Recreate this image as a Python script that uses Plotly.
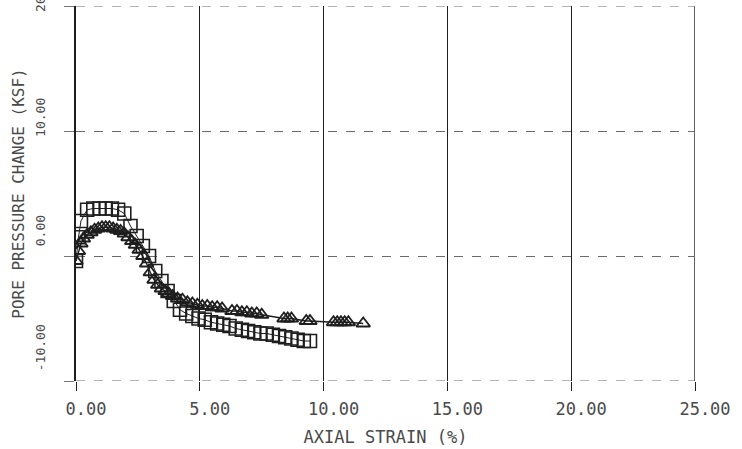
import plotly.graph_objects as go

# Axial strain (%) and pore pressure change (ksf) for the two test specimens
strain_sq = [0.0, 0.1, 0.2, 0.45, 0.7, 0.95, 1.2, 1.45, 1.7, 1.95, 2.2, 2.45, 2.7,
             2.95, 3.2, 3.45, 3.7, 3.95, 4.2, 4.45, 4.7, 4.95, 5.2, 5.45, 5.7, 5.95,
             6.2, 6.45, 6.7, 6.95, 7.2, 7.45, 7.7, 7.95, 8.2, 8.45, 8.7, 8.95, 9.2, 9.45]
pore_sq = [-0.4, 1.5, 2.8, 3.7, 3.8, 3.8, 3.8, 3.8, 3.7, 3.4, 2.4, 1.6, 0.8,
           0.0, -1.2, -2.0, -2.8, -3.6, -4.3, -4.6, -4.8, -5.0, -5.1, -5.3, -5.4, -5.5,
           -5.6, -5.8, -5.9, -6.0, -6.1, -6.2, -6.2, -6.3, -6.4, -6.5, -6.6, -6.7, -6.8, -6.8]

strain_tri = [0.0, 0.1, 0.2, 0.3, 0.45, 0.6, 0.75, 0.9, 1.05, 1.2, 1.35, 1.5, 1.65,
              1.8, 1.95, 2.1, 2.25, 2.4, 2.55, 2.7, 2.85, 3.0, 3.15, 3.3, 3.45, 3.6,
              3.75, 3.9, 4.1, 4.3, 4.5, 4.7, 4.9, 5.1, 5.3, 5.5, 5.7, 5.9, 6.3, 6.5,
              6.7, 6.9, 7.1, 7.3, 7.5, 8.4, 8.55, 8.7, 9.3, 9.45, 10.4, 10.55, 10.7,
              10.85, 11.0, 11.6]
pore_tri = [-0.4, 0.4, 1.0, 1.4, 1.7, 1.9, 2.1, 2.2, 2.3, 2.3, 2.3, 2.2, 2.1,
            2.0, 1.8, 1.5, 1.2, 0.9, 0.5, 0.0, -0.6, -1.3, -1.9, -2.3, -2.6, -2.8,
            -3.0, -3.2, -3.4, -3.5, -3.7, -3.8, -3.9, -4.0, -4.0, -4.1, -4.1, -4.2, -4.4, -4.4,
            -4.5, -4.5, -4.6, -4.6, -4.7, -5.0, -5.0, -5.0, -5.2, -5.2, -5.3, -5.3, -5.3,
            -5.3, -5.3, -5.4]

x_ticks = [0, 5, 10, 15, 20, 25]
x_labels = ["0.00", "5.00", "10.00", "15.00", "20.00", "25.00"]
y_ticks = [-10, 0, 10, 20]
y_labels = ["-10.00", "0.00", "10.00", "20.00"]

INK = "#1e1e1e"
GRID = "#6a6a6a"
TXT = "#4a4a4a"
MONO = "DejaVu Sans Mono"

X_RANGE = [0, 25]
Y_RANGE = [-10, 20]

# The plotter set the y labels slightly above their ticks; leading
# no-break spaces lift each rotated label by a few half-character widths.
y_lift = [8, 6, 3, 3]
y_text = ["\u00a0" * n + lab for lab, n in zip(y_labels, y_lift)]

fig = go.Figure()
fig.add_trace(go.Scatter(
    x=strain_sq, y=pore_sq, mode="lines+markers",
    line=dict(color=INK, width=1),
    marker=dict(symbol="square-open", size=13, color=INK, line=dict(width=1.6, color=INK)),
    showlegend=False, hoverinfo="skip"))
fig.add_trace(go.Scatter(
    x=strain_tri, y=pore_tri, mode="lines+markers",
    line=dict(color=INK, width=1.4),
    marker=dict(symbol="triangle-up-open", size=12, color=INK, line=dict(width=1.8, color=INK)),
    showlegend=False, hoverinfo="skip"))

# Frame: solid right edge, dashed top and bottom edges
fig.add_shape(type="line", xref="x", yref="y", x0=X_RANGE[1], x1=X_RANGE[1],
              y0=Y_RANGE[0], y1=Y_RANGE[1], line=dict(color=INK, width=1.4), layer="below")
for yv in Y_RANGE:
    fig.add_shape(type="line", xref="x", yref="y", x0=X_RANGE[0], x1=X_RANGE[1],
                  y0=yv, y1=yv, line=dict(color=GRID, width=1.2, dash="dash"), layer="below")

fig.update_layout(
    width=742, height=449,
    margin=dict(l=76, r=47, t=6, b=68),
    paper_bgcolor="white", plot_bgcolor="white",
    font=dict(family=MONO, color=TXT),
    xaxis=dict(
        range=X_RANGE, tickvals=x_ticks, ticktext=x_labels,
        showgrid=True, gridcolor=INK, gridwidth=1.4,
        zeroline=False, showline=False,
        ticks="outside", ticklen=9, tickcolor=INK, tickwidth=1.4,
        tickfont=dict(family=MONO, size=17, color=TXT),
        ticklabelshift=10, ticklabelstandoff=4,
        title=dict(text="AXIAL STRAIN (%)", font=dict(family=MONO, size=17, color=TXT), standoff=12),
        automargin=False,
    ),
    yaxis=dict(
        range=Y_RANGE, tickvals=y_ticks, ticktext=y_text,
        showgrid=True, gridcolor=GRID, gridwidth=1.2, griddash="dash",
        zeroline=False, showline=True, linecolor=INK, linewidth=1.6,
        ticks="outside", ticklen=10, tickcolor="#777", tickwidth=1.2,
        tickangle=-90, ticklabeloverflow="allow",
        tickfont=dict(family=MONO, size=13, color=TXT),
        ticklabelstandoff=14,
        title=dict(text="PORE PRESSURE CHANGE (KSF)", font=dict(family=MONO, size=16, color=TXT), standoff=4),
        automargin=False,
    ),
)

fig.write_html("out.html")
